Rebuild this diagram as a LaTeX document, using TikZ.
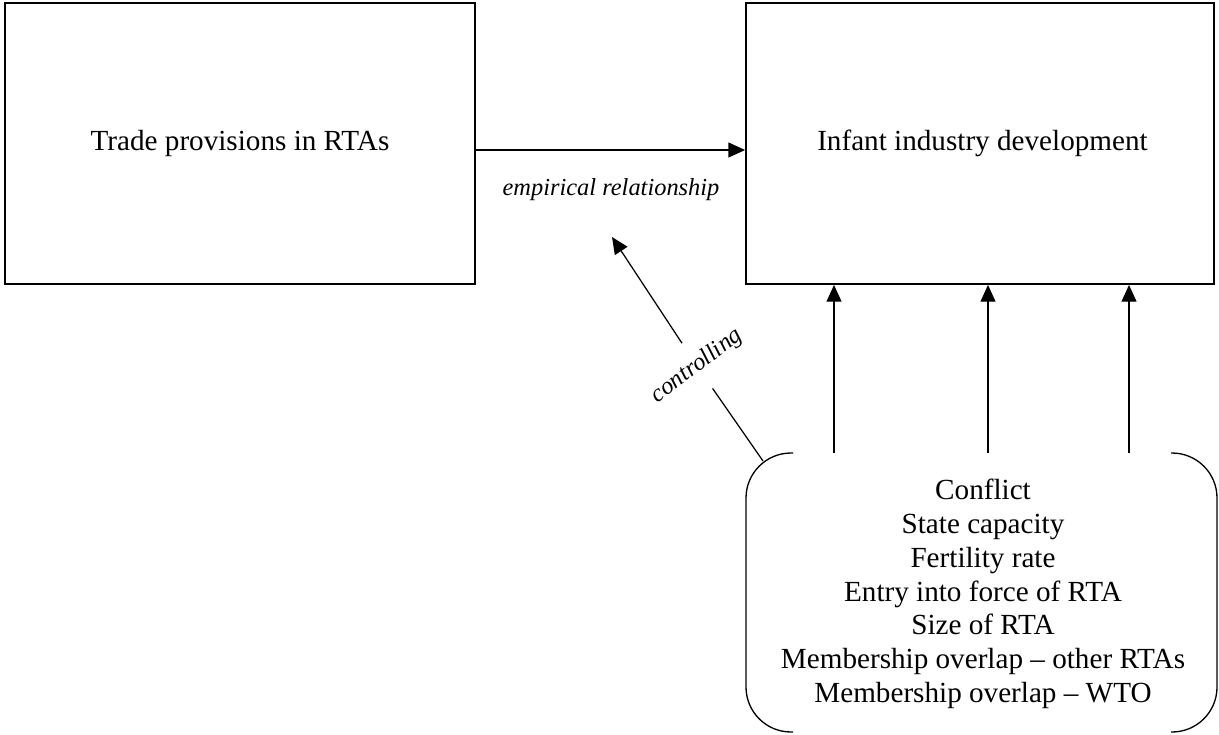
\documentclass[tikz,border=0pt]{standalone}
\usepackage{fontspec}
\setmainfont{Liberation Serif}
\usetikzlibrary{arrows.meta}

\begin{document}
\begin{tikzpicture}[x=0.02cm,y=-0.02cm,every node/.style={font=\fontsize{16.6}{19.2}\selectfont},
		box/.style={draw,line width=1.1pt,minimum height=5.62cm},
		lbl/.style={font=\fontsize{13.9}{16}\selectfont\itshape},
		arr/.style={-{Triangle[length=9.5pt,width=8.5pt]},line width=0.7pt},
		brace/.style={line width=0.75pt,rounded corners=0.9cm}]
			\useasboundingbox (0,0) rectangle (1219,734);
			\node[box,minimum width=9.4cm] (trade) at (240,143.5) {Trade provisions in RTAs};
			\node[box,minimum width=9.36cm] (infant) at (980,143.5) {\hspace*{0.1cm}Infant industry development};
			\draw[arr] ([yshift=-0.13cm]trade.east) -- ([yshift=-0.13cm]infant.west);
			\node[lbl] (emp) at (611,190) {empirical relationship};
			\node[align=center] (vars) at (983,594) {Conflict\\State capacity\\Fertility rate\\Entry into force of RTA\\Size of RTA\\Membership overlap -- other RTAs\\Membership overlap -- WTO};
			\draw[brace] (793,453) -- (746,453) -- (746,732) -- (793,732);
			\draw[brace] (1171,453) -- (1217,453) -- (1217,732) -- (1171,732);
			\foreach \x [count=\i] in {834,988,1129} {
				\coordinate (v\i) at (\x,453);
				\draw[arr] (v\i) -- (v\i |- infant.south);
			}
			\coordinate (foot) at (763,461);
			\coordinate (tip) at (612,237);
			\node[lbl,rotate=37,inner ysep=9pt] (ctrl) at (697,366) {controlling};
			\draw[line width=0.7pt] (foot) -- (ctrl);
			\draw[arr] (ctrl) -- (tip);
		\end{tikzpicture}
\end{document}
